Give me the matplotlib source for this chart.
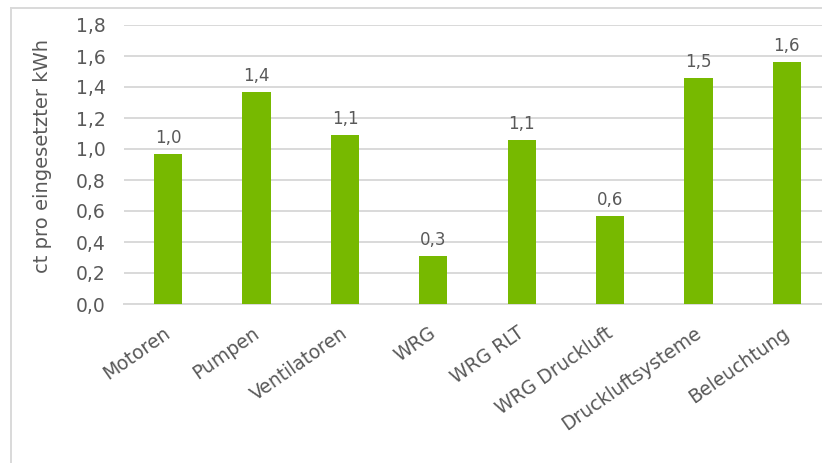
import numpy as np
import matplotlib
matplotlib.use("Agg")
import matplotlib.pyplot as plt
from matplotlib.lines import Line2D
from matplotlib.transforms import ScaledTranslation

# ---- data ----
kategorien = ['Motoren', 'Pumpen', 'Ventilatoren', 'WRG', 'WRG RLT',
              'WRG Druckluft', 'Druckluftsysteme', 'Beleuchtung']
werte = [0.97, 1.37, 1.09, 0.31, 1.06, 0.57, 1.46, 1.56]
y_ticks = [0.0, 0.2, 0.4, 0.6, 0.8, 1.0, 1.2, 1.4, 1.6, 1.8]

gruen = '#77B900'
grau = '#D9D9D9'
text_grau = '#595959'

plt.rcParams['font.family'] = ['DejaVu Sans']

fig = plt.figure(figsize=(8.22, 4.63), dpi=100)
W, H = 822, 463

# plot area in pixels: left 124, right ~831 (cut off by the image), y 0 at 304, 1.8 at 25
ax = fig.add_axes([124 / W, 1 - 304 / H, (831 - 124) / W, (304 - 25) / H])

x = np.arange(len(kategorien))
ax.bar(x, werte, width=0.32, color=gruen, zorder=3)

ax.set_xlim(-0.5, len(kategorien) - 0.5)
ax.set_ylim(0, 1.8)
ax.set_yticks(y_ticks)
ax.set_yticklabels([('%.1f' % v).replace('.', ',') for v in y_ticks])
ax.yaxis.grid(True, color=grau, linewidth=1.4, zorder=0)
ax.set_axisbelow(True)

for s in ['top', 'right', 'left']:
    ax.spines[s].set_visible(False)
ax.spines['bottom'].set_color(grau)
ax.spines['bottom'].set_linewidth(1.4)

ax.tick_params(axis='y', length=0, pad=13, labelsize=13.5, labelcolor=text_grau)
ax.tick_params(axis='x', length=0, pad=14, labelsize=13.5, labelcolor=text_grau)
ax.set_xticks(x)
ax.set_xticklabels(kategorien, rotation=35, ha='right', rotation_mode='anchor')
verschub = ScaledTranslation(-5 / 100, 0, fig.dpi_scale_trans)
for lab in ax.get_xticklabels():
    lab.set_transform(lab.get_transform() + verschub)

# data labels
for xi, v in zip(x, werte):
    ax.annotate(('%.1f' % v).replace('.', ','), (xi, v), xytext=(0, 5),
                textcoords='offset points', ha='center', va='bottom',
                fontsize=12, color=text_grau)

fig.text(42 / W, 1 - 156 / H, 'ct pro eingesetzter kWh', rotation=90,
         ha='center', va='center', fontsize=14, color=text_grau)

# chart frame (top + left visible, rest cut off)
fig.add_artist(Line2D([11 / W, 11 / W], [0, 1 - 8 / H], transform=fig.transFigure,
                      color=grau, linewidth=1.4))
fig.add_artist(Line2D([11 / W, 1], [1 - 8 / H, 1 - 8 / H], transform=fig.transFigure,
                      color=grau, linewidth=1.4))

fig.savefig('out.png', dpi=100)
